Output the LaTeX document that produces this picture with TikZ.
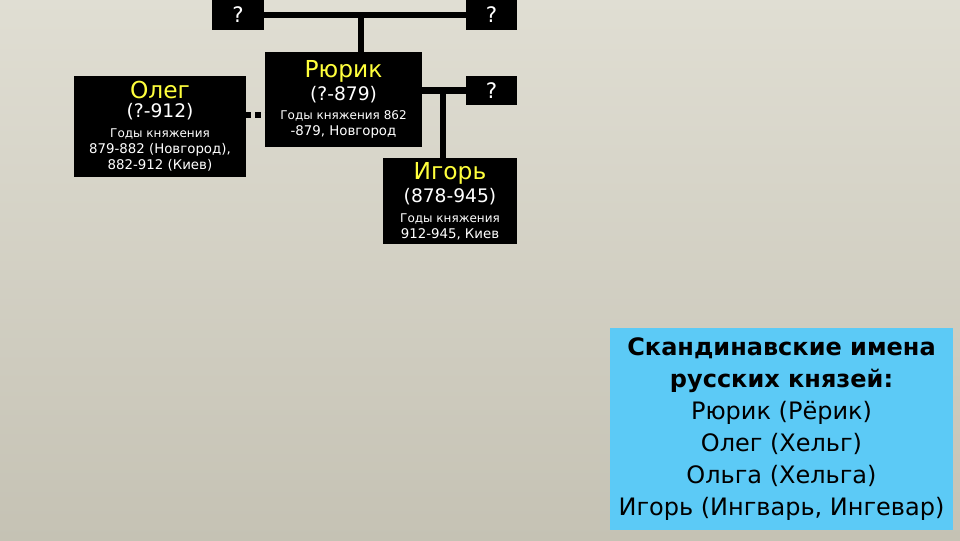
\documentclass[tikz,border=0pt]{standalone}
\usepackage{fontspec}
\setmainfont{DejaVu Sans}
\definecolor{bgtop}{RGB}{224,222,211}
\definecolor{bgmid}{RGB}{215,212,199}
\definecolor{bgbottom}{RGB}{197,194,180}
\definecolor{namegold}{RGB}{255,255,60}
\definecolor{skyblue}{RGB}{92,202,246}
\newcommand{\princename}{\fontsize{17.5}{21}\selectfont\color{namegold}}
\newcommand{\lifeyears}{\fontsize{14}{17}\selectfont\color{white}}
\newcommand{\reignnote}{\fontsize{9}{11.25}\selectfont}
\begin{document}
\begin{tikzpicture}[x=0.75pt, y=-0.75pt,
  person/.style={fill=black, text=white, inner sep=0pt, align=center},
  unknown/.style={person, font=\fontsize{16}{18}\selectfont},
  link/.style={line width=5pt}]
\shade[top color=bgtop, middle color=bgmid, bottom color=bgbottom] (0,0) rectangle (960,540);
\useasboundingbox (0,0) rectangle (960,540);
\node[unknown, minimum width=39pt, minimum height=22.5pt] (qTL) at (238,15) {?};
\node[unknown, minimum width=38.25pt, minimum height=22.5pt] (qTR) at (491.5,15) {?};
\node[person, minimum width=117.75pt, minimum height=71.25pt] (rurik) at (343.5,99.5) {\princename Рюрик\\[2pt]\lifeyears (?-879)\\[2pt]\reignnote Годы княжения 862\\-879, Новгород};
\node[unknown, minimum width=38.25pt, minimum height=21.75pt] (qR) at (491.5,90.5) {?};
\node[person, minimum width=129pt, minimum height=75.75pt] (oleg) at (160,126.5) {\princename Олег\\[2pt]\lifeyears (?-912)\\[3pt]\reignnote Годы княжения\\879-882 (Новгород),\\882-912 (Киев)};
\node[person, minimum width=100.5pt, minimum height=64.5pt] (igor) at (450,201) {\princename Игорь\\[2pt]\lifeyears (878-945)\\[3pt]\reignnote Годы княжения\\912-945, Киев};
\node[fill=skyblue, inner sep=0pt, align=center, minimum width=257.25pt, minimum height=151.5pt,
  font=\fontsize{18}{24}\selectfont] (names) at (781.5,429) {\textbf{Скандинавские имена}\\\textbf{русских князей:}\\Рюрик (Рёрик)\\Олег (Хельг)\\Ольга (Хельга)\\Игорь (Ингварь, Ингевар)};
% parents of Rurik
\coordinate (fork) at (361,14);
\draw[link] (qTL.east) -- (qTR.west);
\draw[link] (fork) -- (fork |- rurik.north);
% Rurik's marriage and son
\coordinate (kid) at (443,90);
\draw[link] (qR.west) -- (qR.west -| rurik.east);
\draw[link] (kid) -- (kid |- igor.north);
% Oleg
\coordinate (kin) at (246,115);
\draw[line width=4pt, dash pattern=on 4pt off 3pt] (kin) -- (kin -| rurik.west);
\end{tikzpicture}
\end{document}
